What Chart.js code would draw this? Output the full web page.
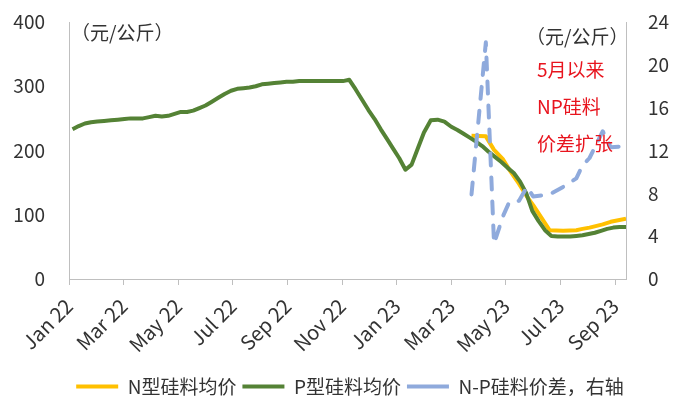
<!DOCTYPE html>
<html lang="zh">
<head>
<meta charset="utf-8">
<title>N型与P型硅料均价</title>
<script src="https://cdn.jsdelivr.net/npm/chart.js@4.4.0/dist/chart.umd.min.js"></script>
<style>
  html, body { margin: 0; padding: 0; background: #ffffff; }
  #grafica { display: block; }
</style>
</head>
<body>
<canvas id="grafica" width="700" height="414"></canvas>
<script>
// Etiquetas del eje x (cada 2 meses)
const tickLabels = ["Jan 22", "Mar 22", "May 22", "Jul 22", "Sep 22", "Nov 22",
  "Jan 23", "Mar 23", "May 23", "Jul 23", "Sep 23"];

// P型硅料均价 (元/公斤), semanal
const pDates = [
  "2022-01-05", "2022-01-12", "2022-01-19", "2022-01-26", "2022-02-02", "2022-02-09",
  "2022-02-16", "2022-02-23", "2022-03-02", "2022-03-09", "2022-03-16", "2022-03-23",
  "2022-03-30", "2022-04-06", "2022-04-13", "2022-04-20", "2022-04-27", "2022-05-04",
  "2022-05-11", "2022-05-18", "2022-05-25", "2022-06-01", "2022-06-08", "2022-06-15",
  "2022-06-22", "2022-06-29", "2022-07-06", "2022-07-13", "2022-07-20", "2022-07-27",
  "2022-08-03", "2022-08-10", "2022-08-17", "2022-08-24", "2022-08-31", "2022-09-07",
  "2022-09-14", "2022-09-21", "2022-09-28", "2022-10-05", "2022-10-12", "2022-10-19",
  "2022-10-26", "2022-11-02", "2022-11-09", "2022-11-16", "2022-11-23", "2022-11-30",
  "2022-12-07", "2022-12-14", "2022-12-21", "2022-12-28", "2023-01-04", "2023-01-11",
  "2023-01-18", "2023-01-25", "2023-02-01", "2023-02-08", "2023-02-15", "2023-02-22",
  "2023-03-01", "2023-03-08", "2023-03-15", "2023-03-22", "2023-03-29", "2023-04-05",
  "2023-04-12", "2023-04-19", "2023-04-26", "2023-05-03", "2023-05-10", "2023-05-17",
  "2023-05-24", "2023-05-31", "2023-06-07", "2023-06-14", "2023-06-21", "2023-06-28",
  "2023-07-05", "2023-07-12", "2023-07-19", "2023-07-26", "2023-08-02", "2023-08-09",
  "2023-08-16", "2023-08-23", "2023-08-30", "2023-09-06", "2023-09-13",
];
const pPrice = [
  233, 238, 242, 244, 245, 246,
  247, 248, 249, 250, 250, 250,
  252, 254, 253, 254, 257, 260,
  260, 262, 266, 270, 276, 282,
  288, 293, 296, 297, 298, 300,
  303, 304, 305, 306, 307, 307,
  308, 308, 308, 308, 308, 308,
  308, 308, 310, 295, 279, 263,
  249, 233, 218, 203, 188, 170,
  178, 203, 228, 247, 248, 245,
  237, 232, 226, 220, 214, 207,
  198, 190, 182, 173, 165, 152,
  134, 106, 90, 76, 67, 66,
  66, 66, 67, 68, 70, 72,
  75, 78, 80, 81, 81,
];

// N型硅料均价 y N-P价差 (右轴)
const npDates = [
  "2023-03-24", "2023-04-09", "2023-04-18", "2023-04-28", "2023-05-05", "2023-05-16",
  "2023-05-25", "2023-06-01", "2023-06-19", "2023-07-04", "2023-07-19", "2023-07-26",
  "2023-08-03", "2023-08-18", "2023-08-27", "2023-09-13",
];
const nPrice = [
  223, 222, 201, 186, 170, 148,
  128, 115, 76, 75, 76, 78,
  80, 85, 89, 94,
];
const npSpread = [
  7.9, 22.1, 3.3, 5.9, 7.2, 7.3,
  8.6, 7.7, 7.9, 8.6, 9.4, 10.6,
  11.3, 13.8, 12.3, 12.4,
];

const fuente = "'Noto Sans CJK SC', 'Noto Sans', sans-serif";
const gris = "#bfbfbf";
const texto = "#333333";

// fecha -> meses desde ene 2022
function monthPos(fecha) {
  const [y, m, d] = fecha.split("-").map(Number);
  const dias = new Date(y, m, 0).getDate();
  return (y - 2022) * 12 + (m - 1) + (d - 1) / dias;
}

function puntos(fechas, valores) {
  return fechas.map((f, i) => ({ x: monthPos(f), y: valores[i] }));
}

document.addEventListener("DOMContentLoaded", function () {
  Chart.defaults.font.family = fuente;
  Chart.defaults.color = texto;

  const notas = {
    id: "notas",
    afterDraw(chart) {
      const ctx = chart.ctx;
      const area = chart.chartArea;
      ctx.save();
      ctx.font = "19px " + fuente;
      ctx.textBaseline = "middle";
      ctx.fillStyle = texto;
      ctx.fillText("（元/公斤）", area.left + 2, 33);
      ctx.fillText("（元/公斤）", area.right - 100, 37);
      ctx.fillStyle = "#e8141e";
      ctx.fillText("5月以来", area.right - 89, 70);
      ctx.fillText("NP硅料", area.right - 89, 107);
      ctx.fillText("价差扩张", area.right - 89, 144);
      ctx.restore();
    },
  };

  const ultimo = monthPos(pDates[pDates.length - 1]);
  // marcas invisibles: separan las etiquetas del eje sin sumar relleno arriba
  const sinMarcas = (largo) => ({
    display: true,
    drawOnChartArea: false,
    drawTicks: true,
    tickLength: largo,
    color: "rgba(0,0,0,0)",
  });

  new Chart(document.getElementById("grafica").getContext("2d"), {
    type: "line",
    data: {
      datasets: [
        {
          label: "N型硅料均价",
          data: puntos(npDates, nPrice),
          borderColor: "#ffc000",
          backgroundColor: "#ffc000",
          borderWidth: 4,
          yAxisID: "y",
          order: 3,
        },
        {
          label: "P型硅料均价",
          data: puntos(pDates, pPrice),
          borderColor: "#548235",
          backgroundColor: "#548235",
          borderWidth: 4,
          yAxisID: "y",
          order: 2,
        },
        {
          label: "N-P硅料价差，右轴",
          data: puntos(npDates, npSpread),
          borderColor: "#8faadc",
          backgroundColor: "#8faadc",
          borderWidth: 4,
          borderDash: [12, 12],
          borderCapStyle: "round",
          yAxisID: "y1",
          order: 1,
        },
      ],
    },
    options: {
      responsive: false,
      animation: false,
      devicePixelRatio: 1,
      parsing: false,
      elements: {
        point: { radius: 0 },
        line: { tension: 0, borderJoinStyle: "round" },
      },
      layout: { padding: { top: 22, right: 0, bottom: 8, left: 0 } },
      plugins: {
        tooltip: { enabled: false },
        legend: {
          position: "bottom",
          labels: {
            usePointStyle: true,
            pointStyle: "line",
            pointStyleWidth: 42,
            padding: 6,
            color: texto,
            font: { size: 19 },
            sort: (a, b) => a.datasetIndex - b.datasetIndex,
          },
        },
      },
      scales: {
        x: {
          type: "linear",
          min: 0,
          max: ultimo,
          afterBuildTicks: (scale) => {
            scale.ticks = tickLabels.map((_, i) => ({ value: i * 2 }));
          },
          afterFit: (scale) => {
            scale.height = 92;
          },
          border: { color: gris, width: 1 },
          grid: { display: true, drawOnChartArea: false, drawTicks: true, tickLength: 6, color: gris },
          ticks: {
            autoSkip: false,
            minRotation: 45,
            maxRotation: 45,
            padding: 9,
            font: { size: 20 },
            callback: (value) => tickLabels[Math.round(value / 2)],
          },
        },
        y: {
          position: "left",
          min: 0,
          max: 400,
          afterFit: (scale) => {
            scale.width = 69;
          },
          border: { color: gris, width: 1 },
          grid: sinMarcas(24),
          ticks: { stepSize: 100, padding: 0, font: { size: 19 } },
        },
        y1: {
          position: "right",
          min: 0,
          max: 24,
          afterFit: (scale) => {
            scale.width = 74;
          },
          border: { color: gris, width: 1 },
          grid: sinMarcas(22),
          ticks: { stepSize: 4, padding: 0, font: { size: 19 } },
        },
      },
    },
    plugins: [notas],
  });
});
</script>
</body>
</html>
